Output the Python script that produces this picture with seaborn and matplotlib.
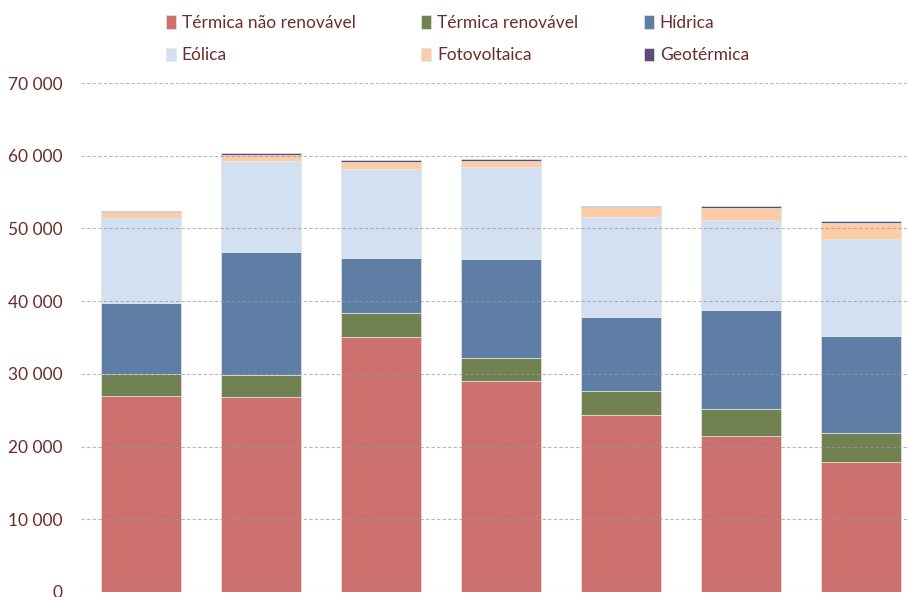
import numpy as np
import pandas as pd
import matplotlib
matplotlib.use("Agg")
import matplotlib.pyplot as plt
import seaborn as sns
from matplotlib.ticker import FuncFormatter

# Bar categories (labels are cropped out of the reference, so ticks are hidden)
bars = ["1", "2", "3", "4", "5", "6", "7"]

# Values per source (stacked from bottom to top)
termica_nao_renovavel = [26960, 26780, 35080, 28980, 24350, 21410, 17840]
termica_renovavel = [3070, 3070, 3250, 3160, 3250, 3720, 3990]
hidrica = [9770, 16920, 7610, 13620, 10250, 13660, 13430]
eolica = [11650, 12510, 12240, 12650, 13710, 12330, 13300]
fotovoltaica = [780, 830, 970, 920, 1330, 1740, 2200]
geotermica = [170, 230, 230, 270, 230, 190, 230]

series = ["Térmica não renovável", "Térmica renovável", "Hídrica",
          "Eólica", "Fotovoltaica", "Geotérmica"]
colors = ["#CC716D", "#728151", "#5E7EA5", "#D2E0F2", "#FBCCA5", "#604A7B"]

df = pd.DataFrame({
    "bar": bars,
    series[0]: termica_nao_renovavel,
    series[1]: termica_renovavel,
    series[2]: hidrica,
    series[3]: eolica,
    series[4]: fotovoltaica,
    series[5]: geotermica,
})

sns.set_theme(style="white")
plt.rcParams["font.family"] = ["Lato", "DejaVu Sans"]
text_color = "#6E2B2B"

fig = plt.figure(figsize=(9.08, 5.97), dpi=100)
ax = fig.add_axes([81 / 908, 5 / 597, 840 / 908, 509 / 597])

bottom = np.zeros(len(bars))
for name, col in zip(series, colors):
    sns.barplot(data=df, x="bar", y=name, bottom=bottom, color=col,
                width=0.667, edgecolor="#E6E6E6", linewidth=0.5,
                label=name, ax=ax, saturation=1, legend=False)
    bottom += df[name].values

ax.set_xlim(-0.5, 6.5)
ax.set_ylim(0, 70000)
ax.set_yticks(np.arange(0, 70001, 10000))
ax.yaxis.set_major_formatter(FuncFormatter(lambda v, p: f"{int(v):,}".replace(",", " ")))
ax.tick_params(axis="y", labelsize=12.5, labelcolor=text_color, length=0, pad=13.5)
ax.set_xticks([])
ax.set_xlabel("")
ax.set_ylabel("")
for s in ax.spines.values():
    s.set_visible(False)

ax.set_axisbelow(False)
ax.yaxis.grid(True, linestyle=(0, (3, 2)), color="#9A9A9A", linewidth=0.8, alpha=0.7)
ax.xaxis.grid(False)
if ax.get_legend() is not None:
    ax.get_legend().remove()

# legend fills row by row in the reference
handles, labels = ax.get_legend_handles_labels()
order = [0, 3, 1, 4, 2, 5]
leg = fig.legend([handles[i] for i in order], [labels[i] for i in order],
                 ncol=3, loc="upper left",
                 bbox_to_anchor=(166 / 908, 1 - 15 / 597), frameon=False,
                 fontsize=12.5, handlelength=0.55, handleheight=0.8,
                 handletextpad=0.35, columnspacing=3.8, labelspacing=0.95,
                 borderpad=0, borderaxespad=0)
for t in leg.get_texts():
    t.set_color(text_color)

fig.savefig("out.png", dpi=100)
